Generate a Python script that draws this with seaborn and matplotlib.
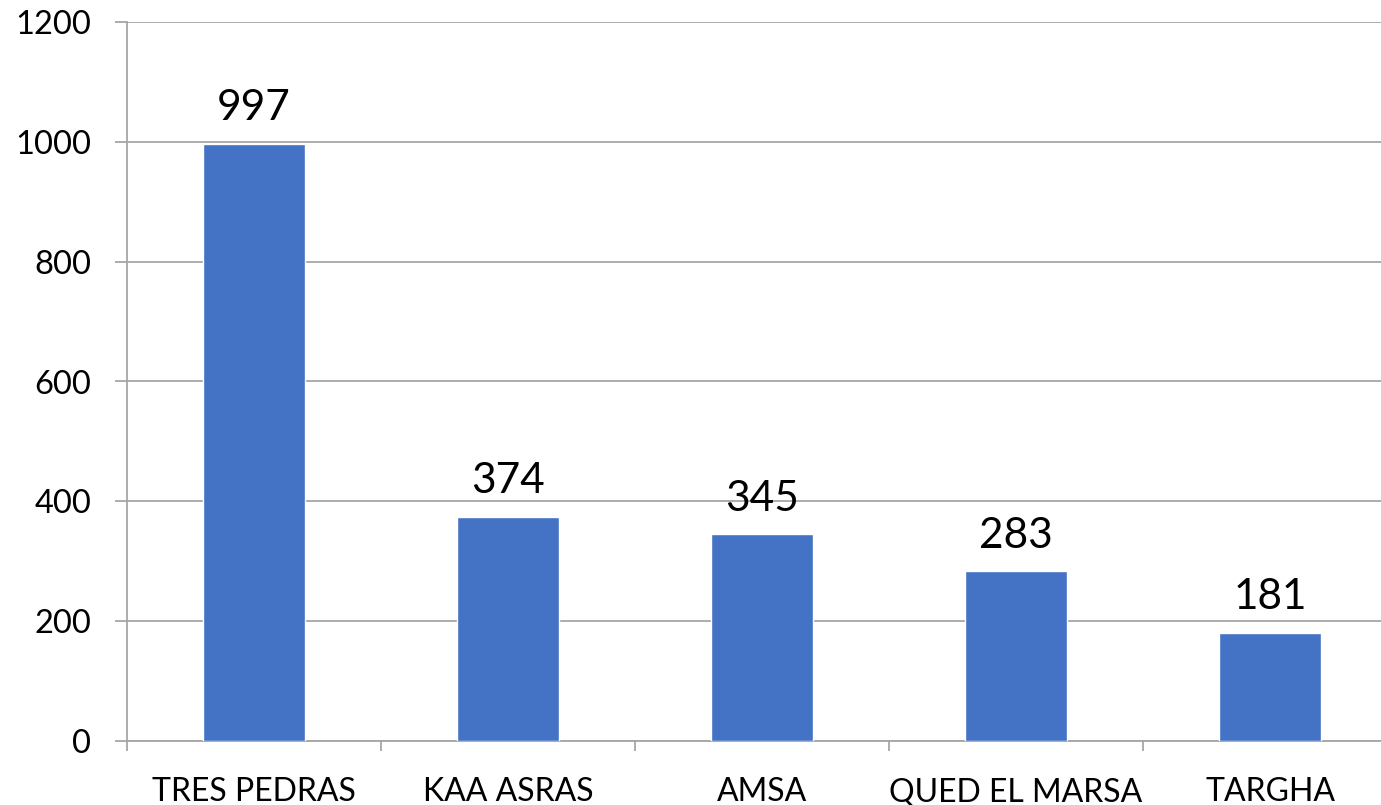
import matplotlib
matplotlib.use('Agg')
import matplotlib.pyplot as plt
import seaborn as sns
import pandas as pd
import numpy as np

# chart data
sites = ['TRES PEDRAS', 'KAA ASRAS', 'AMSA', 'QUED EL MARSA', 'TARGHA']
counts = [997, 374, 345, 283, 181]
y_ticks = [0, 200, 400, 600, 800, 1000, 1200]

df = pd.DataFrame({'site': sites, 'count': counts})

sns.set_style('white')
plt.rcParams['font.family'] = ['Lato', 'DejaVu Sans']

fig = plt.figure(figsize=(13.81, 8.05), dpi=100)
W, H = 1381, 805
ax = fig.add_axes([127 / W, 64 / H, (1397 - 127) / W, (741 - 22) / H])

sns.barplot(data=df, x='site', y='count', color='#4472C4', width=0.4,
            saturation=1, ax=ax, zorder=3)

ax.set_xlim(-0.5, len(sites) - 0.5)
ax.set_ylim(0, 1200)
ax.set_yticks(y_ticks)
ax.set_xlabel('')
ax.set_ylabel('')

grid_col = '#A6A6A6'
ax.yaxis.grid(True, color=grid_col, linewidth=1.3, zorder=0)
ax.xaxis.grid(False)
for s in ['top', 'right']:
    ax.spines[s].set_visible(False)
ax.spines['left'].set_color(grid_col)
ax.spines['left'].set_linewidth(1.3)
ax.spines['bottom'].set_color(grid_col)
ax.spines['bottom'].set_linewidth(1.3)

ax.tick_params(axis='y', length=8.6, width=1.3, color=grid_col, pad=17,
               labelsize=23.5, labelcolor='black', left=True)
ax.tick_params(axis='x', which='major', length=0, pad=26, labelsize=23,
               labelcolor='black')
ax.set_xticks(np.arange(-0.5, len(sites), 1.0), minor=True)
ax.tick_params(axis='x', which='minor', length=7.5, width=1.3, color=grid_col,
               bottom=True)

# value labels above bars
for i, v in enumerate(counts):
    ax.annotate(str(v), (i, v), xytext=(0, 12), textcoords='offset points',
                ha='center', va='bottom', fontsize=30.5, color='black')

fig.savefig('out.png', dpi=100)
